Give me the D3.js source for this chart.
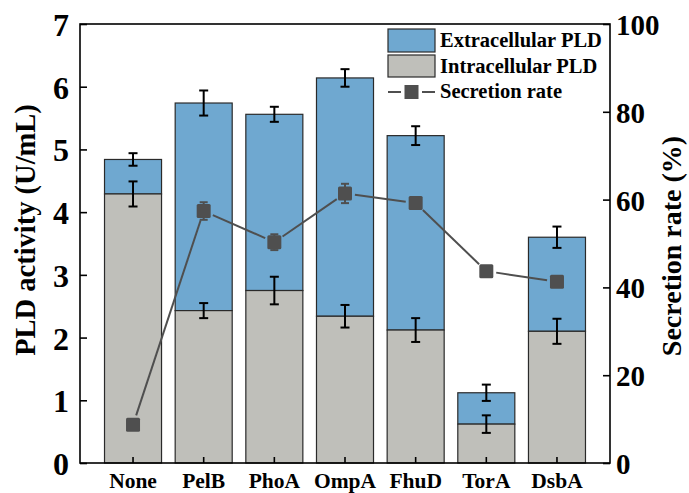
<!DOCTYPE html>
<html><head><meta charset="utf-8">
<script src="https://cdn.jsdelivr.net/npm/d3@7"></script>
<style>body{margin:0;background:#fff}svg{display:block}</style>
</head><body>
<script>
const categories = ["None","PelB","PhoA","OmpA","FhuD","TorA","DsbA"];
const intracellular = [4.29,2.43,2.75,2.34,2.12,0.62,2.10];
const intracellularErr = [0.20,0.12,0.22,0.18,0.19,0.14,0.20];
const total = [4.84,5.74,5.56,6.14,5.22,1.12,3.60];
const totalErr = [0.10,0.20,0.12,0.14,0.15,0.13,0.17];
const secretionRate = [8.7,57.4,50.3,61.4,59.2,43.7,41.3];
const secretionErr = [0.5,2.0,1.8,2.2,1.0,1.0,1.0];
const leftTicks = [0,1,2,3,4,5,6,7];
const rightTicks = [0,20,40,60,80,100];

const W=689,H=493;
const m={l:80,r:79,t:24,b:30};
const x0=m.l,x1=W-m.r,y0=H-m.b,y1=m.t;
const svg=d3.select("body").append("svg").attr("width",W).attr("height",H);
const FF="'Liberation Serif','Times New Roman',serif";
function font(sel,size){return sel.style("font-family",FF).style("font-weight","700").style("font-size",size+"px").style("fill","#000");}

const x=d3.scaleBand().domain(categories).range([x0,x1]).paddingInner(0.193).paddingOuter(0.347);
const y=d3.scaleLinear().domain([0,7]).range([y0,y1]);
const y2=d3.scaleLinear().domain([0,100]).range([y0,y1]);

const blue="#6fa8d0", gray="#bfbfba", mk="#4f4f4f";

const g=svg.append("g");
categories.forEach((c,i)=>{
  g.append("rect").attr("x",x(c)).attr("width",x.bandwidth())
   .attr("y",y(total[i])).attr("height",y(intracellular[i])-y(total[i]))
   .attr("fill",blue).attr("stroke","#2a2a2a").attr("stroke-width",1.2);
  g.append("rect").attr("x",x(c)).attr("width",x.bandwidth())
   .attr("y",y(intracellular[i])).attr("height",y(0)-y(intracellular[i]))
   .attr("fill",gray).attr("stroke","#2a2a2a").attr("stroke-width",1.2);
});
function errBar(cx,ya,yb,col,cap){
  g.append("line").attr("x1",cx).attr("x2",cx).attr("y1",ya).attr("y2",yb).attr("stroke",col).attr("stroke-width",2);
  [ya,yb].forEach(v=>g.append("line").attr("x1",cx-cap).attr("x2",cx+cap).attr("y1",v).attr("y2",v).attr("stroke",col).attr("stroke-width",2));
}
categories.forEach((c,i)=>{
  const cx=x(c)+x.bandwidth()/2;
  errBar(cx,y(total[i]+totalErr[i]),y(total[i]-totalErr[i]),"#000",4.5);
  errBar(cx,y(intracellular[i]+intracellularErr[i]),y(intracellular[i]-intracellularErr[i]),"#000",4.5);
});

const pts=categories.map((c,i)=>[x(c)+x.bandwidth()/2,y2(secretionRate[i])]);
for(let i=0;i<pts.length-1;i++){
  const [ax,ay]=pts[i],[bx,by]=pts[i+1];
  const dx=bx-ax,dy=by-ay,L=Math.hypot(dx,dy),s=10;
  g.append("line").attr("x1",ax+dx/L*s).attr("y1",ay+dy/L*s).attr("x2",bx-dx/L*s).attr("y2",by-dy/L*s)
   .attr("stroke",mk).attr("stroke-width",2);
}
categories.forEach((c,i)=>{
  const [cx,cy]=pts[i];
  errBar(cx,y2(secretionRate[i]+secretionErr[i]),y2(secretionRate[i]-secretionErr[i]),mk,4);
  g.append("rect").attr("x",cx-7).attr("y",cy-7).attr("width",14).attr("height",14).attr("rx",1.5).attr("fill",mk);
});

svg.append("rect").attr("x",x0).attr("y",y1).attr("width",x1-x0).attr("height",y0-y1).attr("fill","none").attr("stroke","#000").attr("stroke-width",1.6);

const la=svg.append("g").attr("transform",`translate(${x0},0)`).call(d3.axisRight(y).tickValues(leftTicks).tickSize(7).tickFormat(d3.format("d")));
la.select(".domain").remove();
la.selectAll("line").attr("stroke","#000").attr("stroke-width",1.6);
font(la.selectAll("text").attr("x",-11).attr("text-anchor","end").attr("dy","0.36em"),32);

const ra=svg.append("g").attr("transform",`translate(${x1},0)`).call(d3.axisLeft(y2).tickValues(rightTicks).tickSize(7).tickFormat(d3.format("d")));
ra.select(".domain").remove();
ra.selectAll("line").attr("stroke","#000").attr("stroke-width",1.6);
font(ra.selectAll("text").attr("x",6).attr("text-anchor","start").attr("dy","0.36em"),29);

const ba=svg.append("g").attr("transform",`translate(0,${y0})`).call(d3.axisTop(x).tickSize(6));
ba.select(".domain").remove();
ba.selectAll("line").attr("stroke","#000").attr("stroke-width",1.6);
font(ba.selectAll("text").attr("y",25).attr("dy",0),21.5);

font(svg.append("text").attr("transform",`translate(35,230) rotate(-90)`).attr("text-anchor","middle").text("PLD activity (U/mL)"),28.5);
font(svg.append("text").attr("transform",`translate(681,246) rotate(-90)`).attr("text-anchor","middle").text("Secretion rate (%)"),28);

const lg=svg.append("g");
const lx=388,lw=47;
lg.append("rect").attr("x",lx).attr("y",29).attr("width",lw).attr("height",23).attr("fill",blue).attr("stroke","#2a2a2a").attr("stroke-width",1.2);
lg.append("rect").attr("x",lx).attr("y",55).attr("width",lw).attr("height",22).attr("fill",gray).attr("stroke","#2a2a2a").attr("stroke-width",1.2);
lg.append("line").attr("x1",lx).attr("x2",lx+13).attr("y1",92).attr("y2",92).attr("stroke",mk).attr("stroke-width",2);
lg.append("line").attr("x1",lx+lw-13).attr("x2",lx+lw).attr("y1",92).attr("y2",92).attr("stroke",mk).attr("stroke-width",2);
lg.append("rect").attr("x",lx+lw/2-7).attr("y",85).attr("width",14).attr("height",14).attr("fill",mk);
const legTexts=["Extracellular PLD","Intracellular PLD","Secretion rate"];
[47,73,98].forEach((yy,i)=>font(lg.append("text").attr("x",440).attr("y",yy).text(legTexts[i]),20.5));
</script>
</body></html>
